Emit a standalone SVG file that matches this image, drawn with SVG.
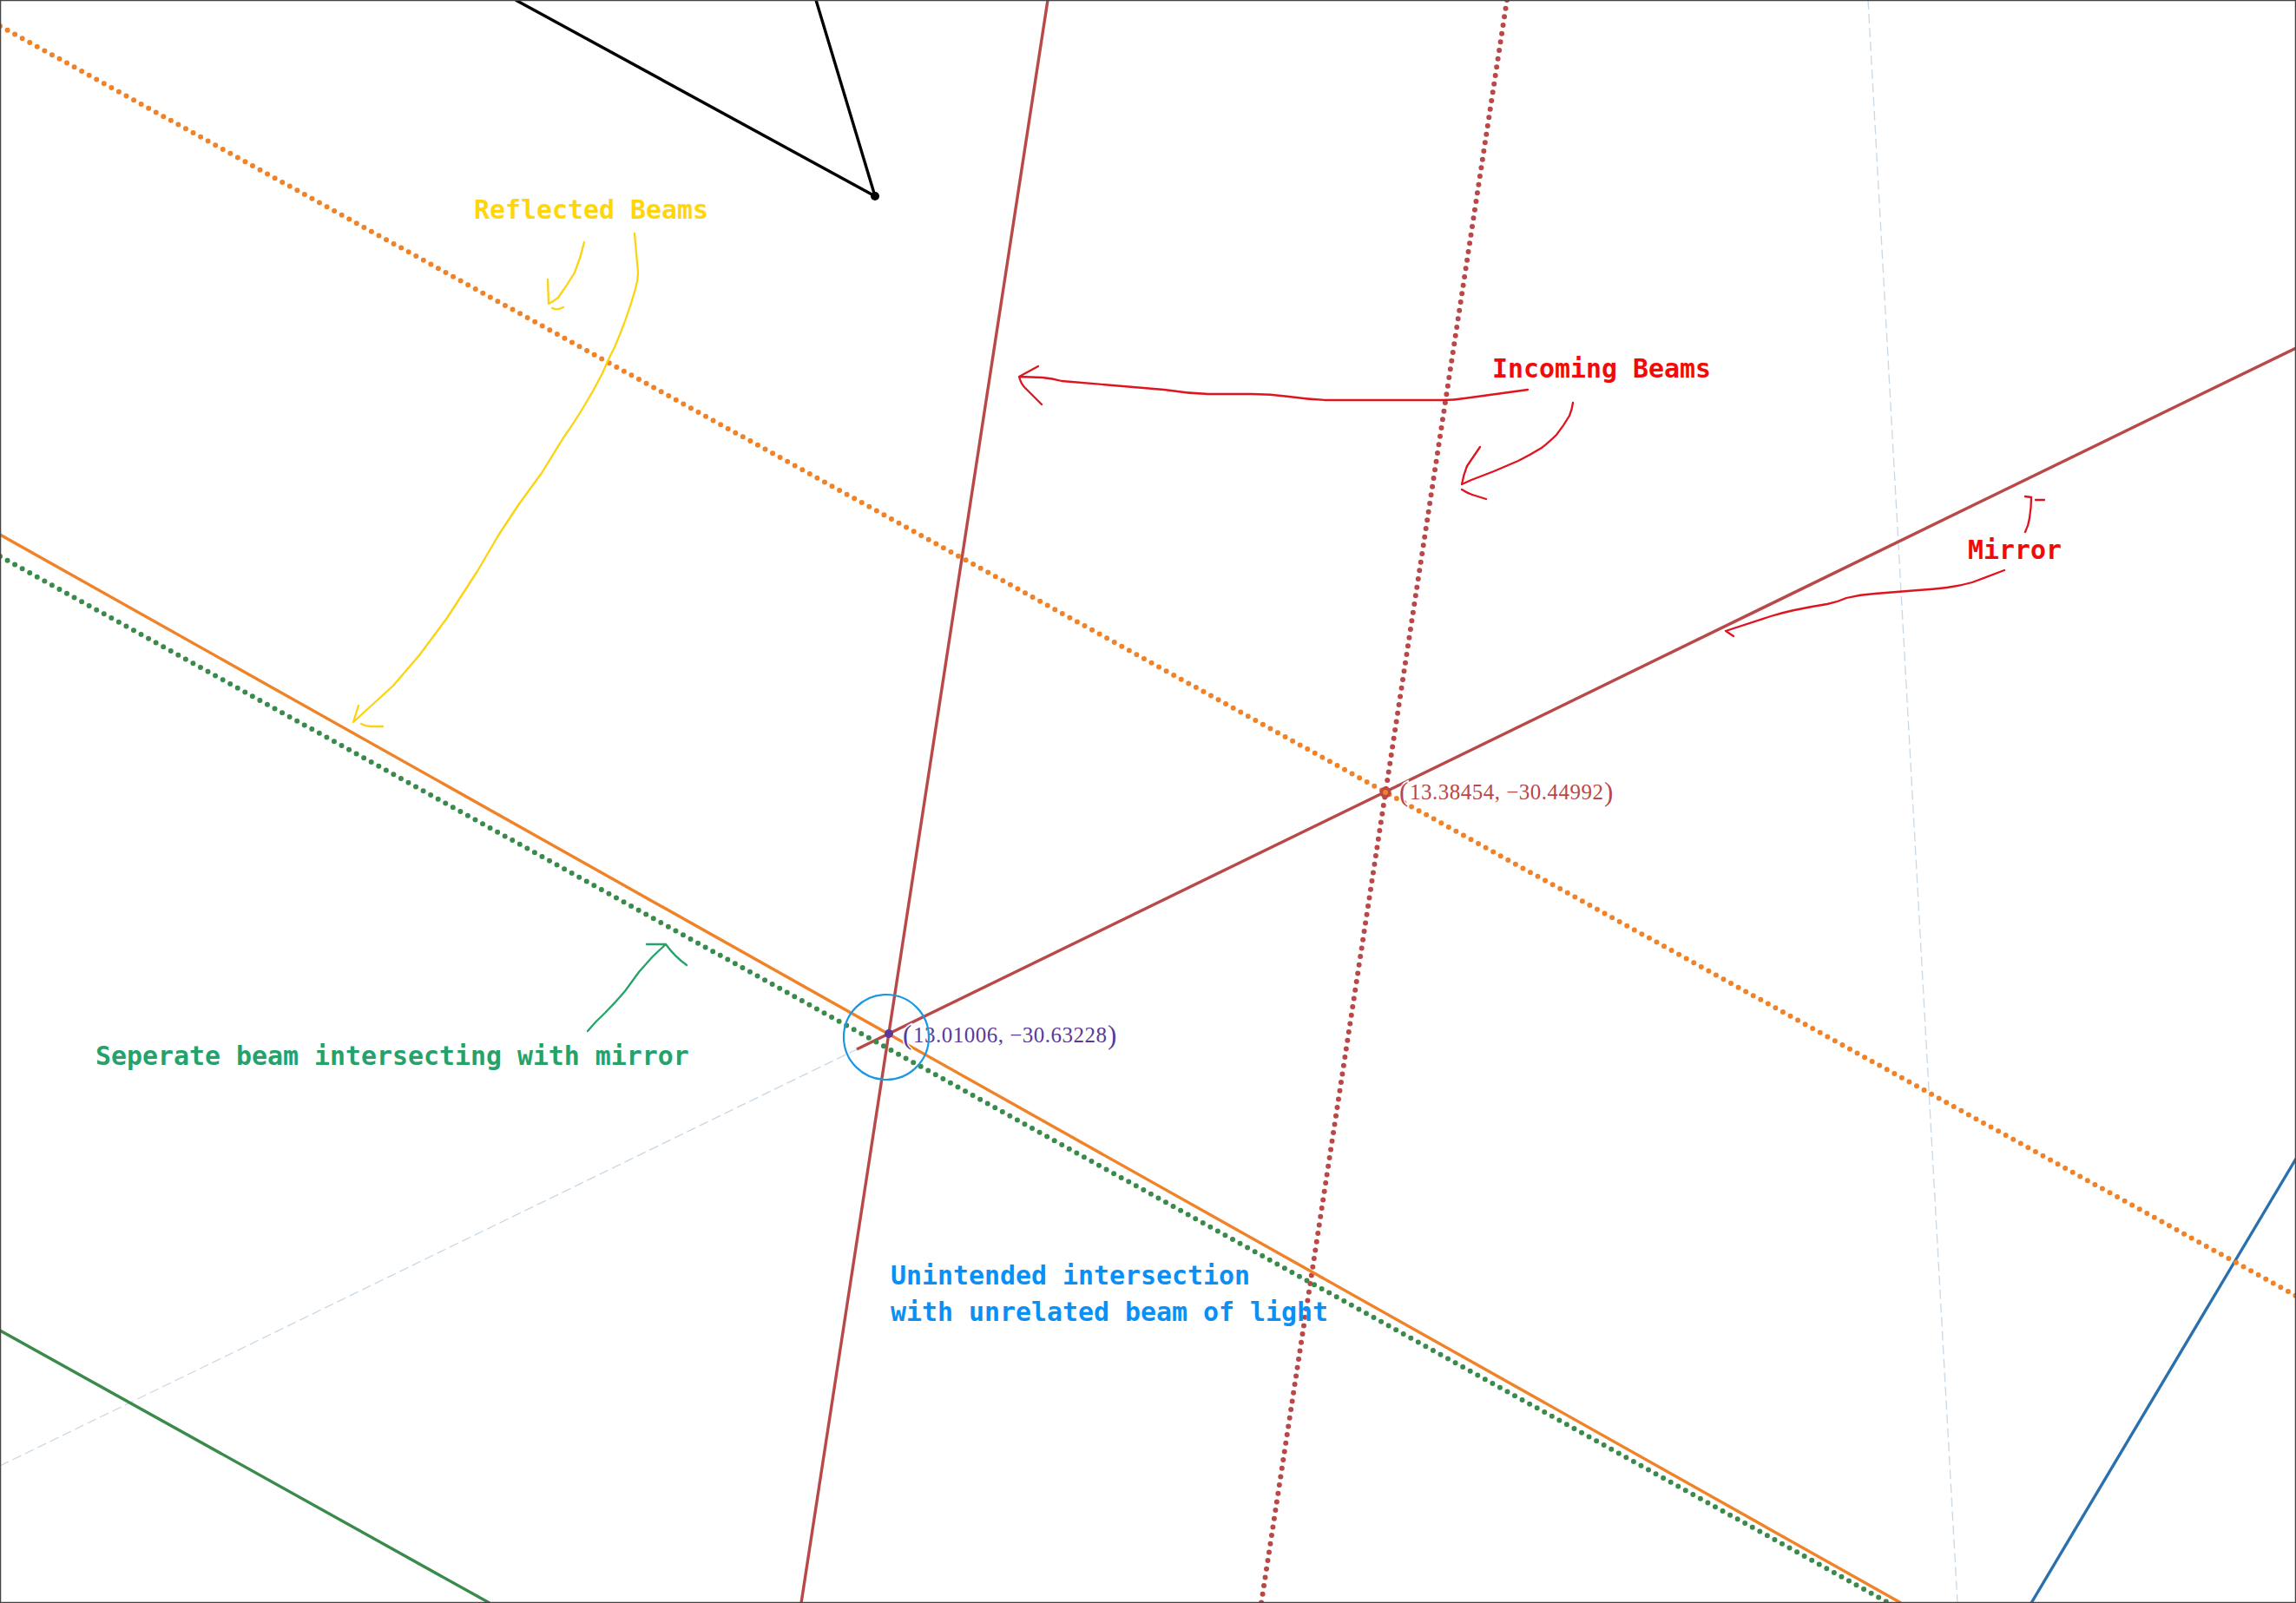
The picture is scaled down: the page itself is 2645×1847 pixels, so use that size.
<svg xmlns="http://www.w3.org/2000/svg" width="2645" height="1847" viewBox="0 0 2645 1847">
<style>
.beam{fill:none;stroke-width:3.4}
.dot{fill:none;stroke-width:6;stroke-linecap:round;stroke-dasharray:0 9.78}
.thin{fill:none;stroke-width:1.3;stroke-dasharray:11 5;stroke:#c8d8e6}
.ink{fill:none;stroke-width:2.3;stroke-linecap:round;stroke-linejoin:round}
.lbl{font-family:"DejaVu Sans Mono","Liberation Mono",monospace;font-weight:700;font-size:29.9px}
.num{font-family:"Liberation Serif",serif;font-size:25px;paint-order:stroke;stroke:#fff;stroke-width:3px}
.par{font-size:31px}
</style>
<rect x="0" y="0" width="2645" height="1847" fill="#fff"/>
<g id="connectors">
<path class="thin" d="M0 1689L987 1209"/>
<path class="thin" d="M2152 0L2255 1847"/>
<path class="beam" style="stroke:#3a8a4c" d="M0 1533L564 1847"/>
<path d="M2340 1847Q2491 1592 2645 1335" class="beam" style="stroke:#2a70ae"/>
<path d="M594 0L1008 226L940 0" fill="none" stroke="#000" stroke-width="3.4"/>
<path class="beam" style="stroke:#b94848" d="M1207 0L923 1847"/>
<path class="beam" style="stroke:#b94848" d="M987 1209L2645 401"/>
<path class="dot" style="stroke:#b94848" d="M1736 0L1453 1847"/>
<path class="dot" style="stroke:#3a8a4c" d="M0 641L2176 1847"/>
<path class="beam" style="stroke:#f08228" d="M0 616L2190 1847"/>
<path class="dot" style="stroke:#f08228" d="M0 30L2645 1493"/>
</g>
<g id="point-top"><circle cx="1008" cy="226" r="5" fill="#000"/></g>
<g id="point-a"><circle cx="1024" cy="1191" r="5" fill="#5a3a96"/>
<text class="num" fill="#5a3a96"><tspan class="par" x="1040" y="1203">(</tspan><tspan x="1052" y="1201" textLength="223">13.01006, −30.63228</tspan><tspan class="par" x="1276" y="1203">)</tspan></text></g>
<g id="point-b"><circle cx="1596" cy="913" r="6.5" fill="#b94848"/><circle cx="1596" cy="913" r="3" fill="#f08228"/>
<text class="num" fill="#b94848"><tspan class="par" x="1612" y="923">(</tspan><tspan x="1624" y="921" textLength="223">13.38454, −30.44992</tspan><tspan class="par" x="1848" y="923">)</tspan></text></g>
<g id="highlight"><circle cx="1021" cy="1195" r="49" fill="none" stroke="#1b98e0" stroke-width="2.2"/></g>
<g id="note-reflected">
<text class="lbl" x="546" y="252" fill="#ffd60a">Reflected Beams</text>
<path class="ink" stroke="#fbd30f" d="M673 279Q669 297 662 314Q653 329 643 343Q638 347 632 350L631 322M636 355Q642 358 649 354"/>
<path class="ink" stroke="#fbd30f" d="M731 269L735 314Q735 323 732 333Q722 368 708 400Q700 415 694 430Q684 450 671 471Q660 489 648 506L624 545L597 582L574 617L550 658L515 712L483 755L453 790Q430 811 407 832L413 813M416 834Q421 837 427 837L441 837"/>
</g>
<g id="note-incoming">
<text class="lbl" x="1719" y="435" fill="#f00a0a">Incoming Beams</text>
<path class="ink" stroke="#e0141e" d="M1760 449L1687 459Q1675 461 1662 461L1527 461Q1506 460 1485 457Q1464 454 1442 454L1392 454Q1366 453 1341 449L1223 439Q1212 436 1201 435L1174 434L1196 422M1174 434Q1176 442 1181 447L1200 466"/>
<path class="ink" stroke="#e0141e" d="M1812 464Q1811 472 1808 479Q1801 491 1793 501Q1785 509 1776 516Q1763 524 1749 531Q1735 537 1721 543Q1708 548 1695 553L1684 558Q1686 547 1690 537L1705 515M1684 564Q1690 568 1696 570L1712 575"/>
</g>
<g id="note-mirror">
<text class="lbl" x="2267" y="644" fill="#f00a0a">Mirror</text>
<path class="ink" stroke="#e0141e" d="M2309 657L2272 671Q2258 675 2243 677Q2227 679 2210 680L2160 684Q2143 685 2127 689Q2116 694 2105 696Q2086 699 2067 703Q2053 706 2040 710L1988 727L1997 733"/>
<path class="ink" stroke="#e0141e" d="M2333 613Q2337 605 2338 597Q2340 585 2340 573L2333 572M2345 576L2355 576"/>
</g>
<g id="note-separate">
<text class="lbl" x="110" y="1227" fill="#26a269">Seperate beam intersecting with mirror</text>
<path class="ink" stroke="#26a269" d="M677 1188Q686 1177 697 1167Q709 1155 720 1142Q728 1131 736 1120Q744 1111 752 1102L767 1088L745 1088M767 1088Q777 1102 791 1112"/>
</g>
<g id="note-unintended">
<text class="lbl" fill="#0a90f5"><tspan x="1026" y="1480">Unintended intersection</tspan><tspan x="1026" y="1522">with unrelated beam of light</tspan></text>
</g>
<rect id="frame" x="0.5" y="0.5" width="2644" height="1846" fill="none" stroke="#444" stroke-width="1.5"/>
</svg>
